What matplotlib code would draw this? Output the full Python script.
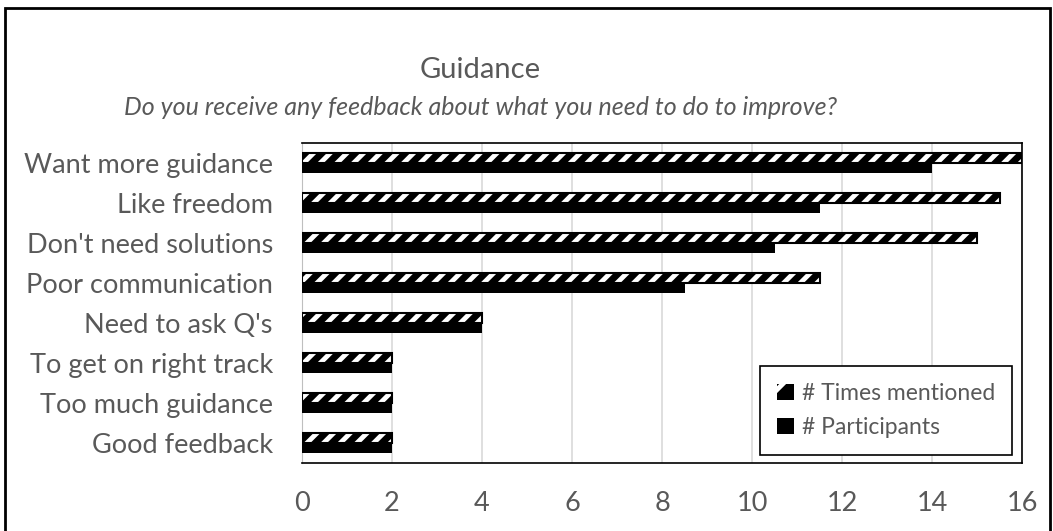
import numpy as np
import matplotlib.pyplot as plt
from matplotlib.patches import Rectangle

plt.rcParams['font.family'] = ['Lato', 'DejaVu Sans']
plt.rcParams['hatch.linewidth'] = 3.5

categories = ['Want more guidance', 'Like freedom', "Don't need solutions",
              'Poor communication', "Need to ask Q's", 'To get on right track',
              'Too much guidance', 'Good feedback']
times_mentioned = [16, 15.5, 15, 11.5, 4, 2, 2, 2]
participants = [14, 11.5, 10.5, 8.5, 4, 2, 2, 2]
x_ticks = [0, 2, 4, 6, 8, 10, 12, 14, 16]

grey = '#595959'
fig = plt.figure(figsize=(10.53, 5.31), dpi=100)
ax = fig.add_axes([0.2868, 0.128, 0.6838, 0.6027])

y = np.arange(len(categories))
h = 0.26
# hatched bars: white stripes on black, thin black outline
ax.barh(y - h / 2, times_mentioned, height=h, color='black', edgecolor='white',
        hatch='//', linewidth=0, zorder=3)
ax.barh(y - h / 2, times_mentioned, height=h, fill=False, edgecolor='black',
        linewidth=1.5, zorder=4)
ax.barh(y + h / 2, participants, height=h, color='black', zorder=3)

ax.set_xlim(0, 16)
ax.set_ylim(len(categories) - 0.5, -0.5)
ax.set_xticks(x_ticks)
ax.set_yticks(y)
ax.set_yticklabels(categories)
ax.tick_params(axis='both', length=0, labelsize=19.5, colors=grey)
ax.tick_params(axis='y', pad=21)
ax.tick_params(axis='x', pad=20)
ax.grid(axis='x', color='#d9d9d9', linewidth=1.2, zorder=0)
for s in ['top', 'right', 'bottom']:
    ax.spines[s].set_color('black')
    ax.spines[s].set_linewidth(1.2)
ax.spines['left'].set_color('#bfbfbf')

# legend
h1 = Rectangle((0, 0), 1, 1, facecolor='black', edgecolor='white', hatch='/', linewidth=0)
h2 = Rectangle((0, 0), 1, 1, facecolor='black')
leg = ax.legend([h1, h2], ['# Times mentioned', '# Participants'], loc='lower right',
                bbox_to_anchor=(0.986, 0.025), fontsize=16.5, labelcolor=grey,
                fancybox=False, edgecolor='black', framealpha=1,
                handlelength=0.7, handleheight=0.7, handletextpad=0.35,
                labelspacing=0.55, borderpad=0.75, borderaxespad=0)
leg.get_frame().set_linewidth(1.2)
leg._legend_box.align = 'left'

fig.text(0.456, 0.868, 'Guidance', ha='center', va='center', fontsize=21, color=grey)
fig.text(0.456, 0.798, 'Do you receive any feedback about what you need to do to improve?',
         ha='center', va='center', fontsize=18, color=grey, style='italic')

# caption above the frame, only its lower part shows, like in the source
fig.text(0.51, 1 + 7 / 531, 'Figure 6: Sample coding summary of responses in student focus groups',
         ha='center', va='baseline', fontsize=21, family='Liberation Serif', color='black')
fig.add_artist(Rectangle((0.005, -0.05), 0.992, 1.035, transform=fig.transFigure,
                         fill=False, edgecolor='black', linewidth=2))

fig.savefig('out.png', dpi=100)
